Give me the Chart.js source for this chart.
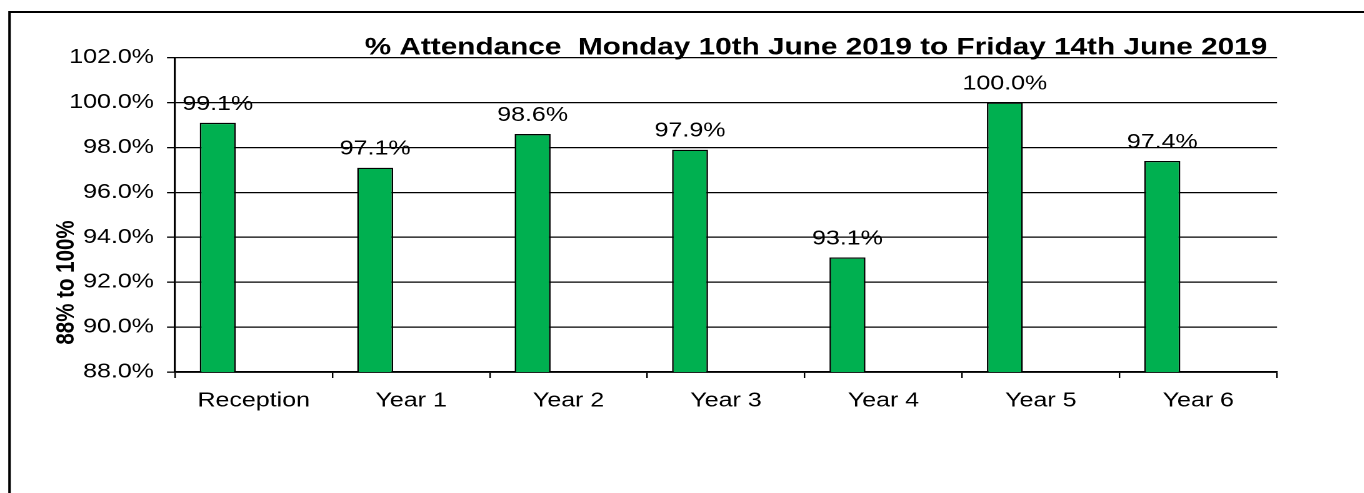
<!DOCTYPE html>
<html>
<head>
<meta charset="utf-8">
<script src="https://cdn.jsdelivr.net/npm/chart.js@4.4.1/dist/chart.umd.min.js"></script>
<style>
  html, body { margin: 0; padding: 0; background: #fff; overflow: hidden; width: 1364px; height: 493px; }
  #wrap { width: 1092px; height: 493px; transform: scaleX(1.25); transform-origin: 0 0; }
  canvas { display: block; }
</style>
</head>
<body>
<div id="wrap"><canvas id="c" width="1092" height="493" style="width:1092px;height:493px"></canvas></div>
<script>
// ---- data ----
const categories = ['Reception', 'Year 1', 'Year 2', 'Year 3', 'Year 4', 'Year 5', 'Year 6'];
const attendance = [99.1, 97.1, 98.6, 97.9, 93.1, 100.0, 97.4];
const emptySeries = [null, null, null, null, null, null, null];
const yMin = 88, yMax = 102, yStep = 2;
const chartTitle = '% Attendance  Monday 10th June 2019 to Friday 14th June 2019';
const yTitle = '88% to 100%';

const FONT = '"Liberation Sans", Arial, Helvetica, sans-serif';

const extras = {
  id: 'extras',
  beforeDraw(chart) {
    const ctx = chart.ctx;
    ctx.save();
    ctx.strokeStyle = '#000';
    ctx.lineWidth = 2;
    ctx.beginPath();
    ctx.moveTo(7.6, 493);
    ctx.lineTo(7.6, 12);
    ctx.lineTo(1092, 12);
    ctx.stroke();
    ctx.restore();
  },
  afterDraw(chart) {
    const ctx = chart.ctx;
    ctx.save();
    ctx.fillStyle = '#000';
    // chart title
    ctx.font = 'bold 23.8px ' + FONT;
    ctx.textAlign = 'center';
    ctx.textBaseline = 'alphabetic';
    ctx.fillText(chartTitle, 652.8, 54.5);
    // y axis title
    ctx.save();
    ctx.translate(53.4, 282.5);
    ctx.rotate(-Math.PI / 2);
    ctx.font = 'bold 20.5px ' + FONT;
    ctx.textAlign = 'center';
    ctx.textBaseline = 'middle';
    ctx.fillText(yTitle, 0, 0);
    ctx.restore();
    // data labels
    ctx.font = '20px ' + FONT;
    ctx.textAlign = 'center';
    ctx.textBaseline = 'alphabetic';
    const meta = chart.getDatasetMeta(0);
    meta.data.forEach((bar, i) => {
      const v = attendance[i];
      if (v == null) return;
      ctx.fillText(v.toFixed(1) + '%', bar.x, bar.y - 13);
    });
    ctx.restore();
  }
};

new Chart(document.getElementById('c'), {
  type: 'bar',
  data: {
    labels: categories,
    datasets: [
      {
        data: attendance,
        backgroundColor: '#00B050',
        borderColor: '#000',
        borderWidth: 1.3,
        categoryPercentage: 0.914,
        barPercentage: 0.5
      },
      {
        data: emptySeries,
        backgroundColor: '#00B050',
        categoryPercentage: 0.914,
        barPercentage: 0.5
      }
    ]
  },
  options: {
    responsive: false,
    animation: false,
    devicePixelRatio: 2,
    layout: { padding: { top: 57.7, right: 70.4, bottom: 0, left: 0 } },
    plugins: { legend: { display: false }, tooltip: { enabled: false }, title: { display: false } },
    scales: {
      x: {
        offset: true,
        grid: { display: true, drawOnChartArea: false, drawTicks: true, tickLength: 6, color: '#000', lineWidth: 1.2, offset: true },
        border: { display: true, color: '#000', width: 1.8 },
        ticks: { color: '#000', font: { family: FONT, size: 20 }, padding: 11, maxRotation: 0, autoSkip: false },
        afterFit(scale) { scale.height = 121; }
      },
      y: {
        min: yMin,
        max: yMax,
        grid: { color: '#000', lineWidth: 1.3, tickLength: 6.4, drawTicks: true },
        border: { display: true, color: '#000', width: 1.6 },
        ticks: {
          stepSize: yStep,
          color: '#000',
          font: { family: FONT, size: 20 },
          padding: 10.4,
          callback: (v) => Number(v).toFixed(1) + '%'
        },
        afterFit(scale) { scale.width = 140; }
      }
    }
  },
  plugins: [extras]
});
</script>
</body>
</html>
